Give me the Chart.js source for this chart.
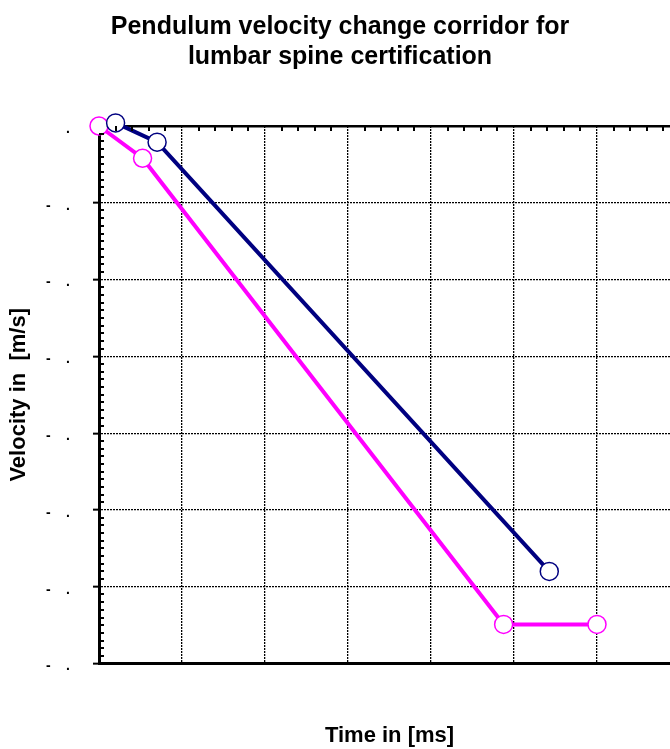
<!DOCTYPE html>
<html>
<head>
<meta charset="utf-8">
<script src="https://cdn.jsdelivr.net/npm/chart.js@4"></script>
<style>
  body { margin: 0; background: #fff; overflow: hidden; }
</style>
</head>
<body>
<canvas id="grafico" width="690" height="749"></canvas>
<script>
// Corridor data (time in ms, velocity change in m/s)
const upperTime = [0.8, 2.8, 21.7];
const upperVel = [0.04, -0.21, -5.8];
const lowerTime = [0, 2.1, 19.5, 24.0];
const lowerVel = [0, -0.42, -6.49, -6.49];

// y tick values and their labels (digits are blank in the original)
const yTickValues = [0, -1, -2, -3, -4, -5, -6, -7];
const yTickLabels = ['\u2007.', '-\u2007\u2007.', '-\u2007\u2007.', '-\u2007\u2007.', '-\u2007\u2007.', '-\u2007\u2007.', '-\u2007\u2007.', '-\u2007\u2007.'];

const FONT = "'Liberation Sans', Arial, sans-serif";

const toPoints = (xs, ys) => xs.map((x, i) => ({ x: x, y: ys[i] }));

// draws small minor ticks on the left and top border
const minorTicks = {
  id: 'minorTicks',
  afterDraw(chart) {
    const ctx = chart.ctx;
    const x = chart.scales.x;
    const y = chart.scales.y;
    const area = chart.chartArea;
    ctx.save();
    ctx.strokeStyle = '#000';
    ctx.lineWidth = 2;
    ctx.beginPath();
    for (let i = 1; i < 70; i++) {
      if (i % 10 === 0) continue;
      const py = Math.round(y.getPixelForValue(-7 + i * 0.1));
      ctx.moveTo(area.left, py);
      ctx.lineTo(area.left + 5, py);
    }
    for (let k = 1; k < 35; k++) {
      if (k % 5 === 0) continue;
      const px = Math.round(x.getPixelForValue(k * 0.8));
      ctx.moveTo(px, area.top);
      ctx.lineTo(px, area.top + 5);
    }
    ctx.stroke();
    ctx.restore();
  }
};

const ctx = document.getElementById('grafico').getContext('2d');

new Chart(ctx, {
  type: 'line',
  data: {
    datasets: [
      {
        label: 'Upper',
        data: toPoints(upperTime, upperVel),
        borderColor: '#000080',
        backgroundColor: '#ffffff',
        borderWidth: 4,
        pointRadius: 9,
        pointBorderWidth: 1.5,
        pointBorderColor: '#000080',
        pointBackgroundColor: '#ffffff',
        tension: 0,
        clip: false
      },
      {
        label: 'Lower',
        data: toPoints(lowerTime, lowerVel),
        borderColor: '#ff00ff',
        backgroundColor: '#ffffff',
        borderWidth: 4,
        pointRadius: 9,
        pointBorderWidth: 1.5,
        pointBorderColor: '#ff00ff',
        pointBackgroundColor: '#ffffff',
        tension: 0,
        clip: false
      }
    ]
  },
  options: {
    responsive: false,
    animation: false,
    layout: {
      autoPadding: false,
      padding: { left: 0, right: 10, top: 0, bottom: 0 }
    },
    plugins: {
      legend: { display: false },
      tooltip: { enabled: false },
      title: {
        display: true,
        text: ['Pendulum velocity change corridor for', 'lumbar spine certification'],
        color: '#000',
        font: { family: FONT, size: 25, weight: 'bold', lineHeight: 1.2 },
        padding: { top: 12, bottom: 54 }
      }
    },
    scales: {
      x: {
        type: 'linear',
        position: 'bottom',
        min: 0,
        max: 28,
        ticks: { display: false, stepSize: 4 },
        grid: {
          color: '#000',
          lineWidth: 1.3,
          drawTicks: false
        },
        border: { display: true, color: '#000', width: 3, dash: [2, 1] },
        title: {
          display: true,
          text: 'Time in [ms]',
          color: '#000',
          font: { family: FONT, size: 22, weight: 'bold' },
          padding: { top: 59, bottom: 0 }
        }
      },
      x2: {
        type: 'linear',
        position: 'top',
        min: 0,
        max: 28,
        ticks: { display: false },
        grid: { display: false, drawTicks: false },
        border: { display: true, color: '#000', width: 2.5 }
      },
      y: {
        type: 'linear',
        min: -7,
        max: 0,
        afterFit: (scale) => { scale.width = 99; },
        afterBuildTicks: (scale) => {
          scale.ticks = yTickValues.map(v => ({ value: v }));
        },
        ticks: {
          color: '#000',
          padding: 23,
          labelOffset: 3,
          font: { family: FONT, size: 14, weight: 'bold' },
          callback: (value) => yTickLabels[yTickValues.indexOf(value)]
        },
        grid: {
          color: '#000',
          lineWidth: 1.3,
          drawTicks: true,
          tickLength: 6,
          tickColor: '#000',
          tickWidth: 2,
          tickBorderDash: []
        },
        border: { display: true, color: '#000', width: 3, dash: [2, 1] },
        title: {
          display: true,
          text: 'Velocity in  [m/s]',
          color: '#000',
          font: { family: FONT, size: 22, weight: 'bold' },
          padding: { top: 6, bottom: 0 }
        }
      }
    }
  },
  plugins: [minorTicks]
});
</script>
</body>
</html>
